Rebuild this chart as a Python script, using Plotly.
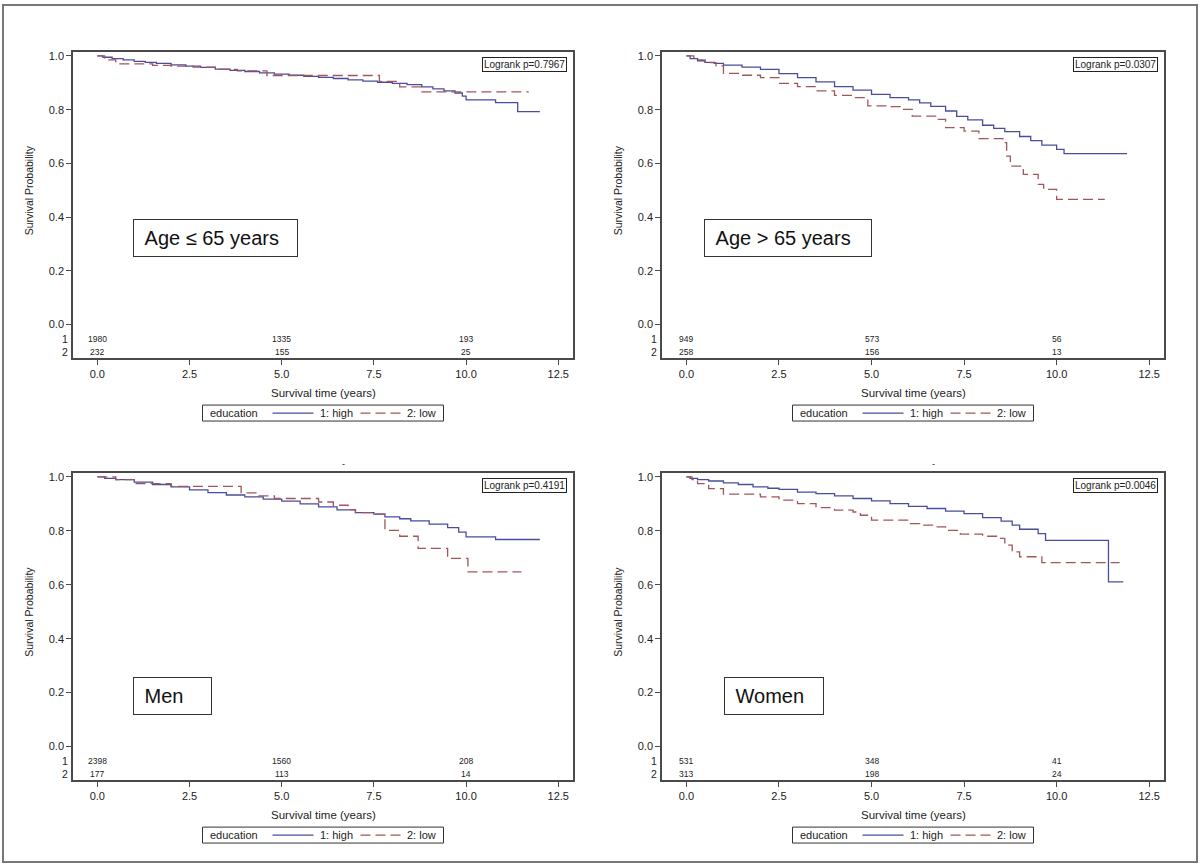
import plotly.graph_objects as go

# ---------------- data ----------------
panel_labels = ["Age \u2264 65 years", "Age > 65 years", "Men", "Women"]
logrank_texts = ["Logrank p=0.7967", "Logrank p=0.0307", "Logrank p=0.4191", "Logrank p=0.0046"]
legend_title = "education"
group_names = ["1: high", "2: low"]
risk_times = [0, 5, 10]

# Age <= 65
a1_high_t = [0, 0.15, 0.4, 0.7, 1.0, 1.3, 1.6, 2.0, 2.4, 2.8, 3.2, 3.6, 4.0, 4.4, 4.8, 5.2, 5.6, 6.0, 6.4, 6.8, 7.2, 7.6, 8.0, 8.4, 8.8, 9.1, 9.4, 9.7, 9.9, 10.0, 10.8, 11.4, 12.0]
a1_high_s = [1.0, 0.995, 0.99, 0.985, 0.98, 0.976, 0.972, 0.967, 0.962, 0.957, 0.951, 0.946, 0.942, 0.937, 0.932, 0.928, 0.924, 0.92, 0.916, 0.911, 0.906, 0.902, 0.898, 0.893, 0.885, 0.877, 0.870, 0.862, 0.850, 0.836, 0.826, 0.793, 0.793]
a1_low_t = [0, 0.2, 0.5, 1.5, 2.0, 2.6, 3.2, 3.8, 4.6, 7.65, 8.2, 8.8, 11.7]
a1_low_s = [1.0, 0.985, 0.97, 0.965, 0.962, 0.958, 0.950, 0.944, 0.927, 0.905, 0.885, 0.866, 0.866]
a1_risk_high = ["1980", "1335", "193"]
a1_risk_low = ["232", "155", "25"]

# Age > 65
a2_high_t = [0, 0.1, 0.3, 0.5, 0.75, 1.0, 1.5, 2.0, 2.5, 3.0, 3.5, 4.0, 4.5, 5.0, 5.5, 6.0, 6.3, 6.6, 7.0, 7.3, 7.6, 8.0, 8.3, 8.6, 9.0, 9.3, 9.6, 10.0, 10.2, 11.9]
a2_high_s = [1.0, 0.99, 0.982, 0.976, 0.972, 0.966, 0.958, 0.95, 0.934, 0.919, 0.903, 0.886, 0.873, 0.857, 0.845, 0.836, 0.825, 0.812, 0.795, 0.775, 0.762, 0.742, 0.73, 0.718, 0.70, 0.685, 0.668, 0.652, 0.636, 0.636]
a2_low_t = [0, 0.2, 0.5, 0.8, 1.0, 1.5, 2.0, 2.5, 3.0, 3.5, 4.0, 4.5, 4.8, 4.9, 5.5, 5.8, 6.1, 6.8, 7.0, 7.5, 7.9, 8.55, 8.65, 8.75, 9.1, 9.5, 9.65, 10.0, 11.3]
a2_low_s = [1.0, 0.985, 0.975, 0.963, 0.935, 0.928, 0.919, 0.898, 0.886, 0.87, 0.853, 0.845, 0.838, 0.814, 0.811, 0.801, 0.776, 0.764, 0.733, 0.72, 0.692, 0.677, 0.627, 0.59, 0.559, 0.522, 0.503, 0.466, 0.466]
a2_risk_high = ["949", "573", "56"]
a2_risk_low = ["258", "156", "13"]

# Men
m_high_t = [0, 0.2, 0.5, 1.0, 1.5, 2.0, 2.5, 3.0, 3.5, 4.0, 4.5, 5.0, 5.5, 6.0, 6.5, 7.0, 7.5, 7.8, 8.2, 8.5, 9.0, 9.5, 9.8, 10.0, 10.8, 12.0]
m_high_s = [1.0, 0.995, 0.99, 0.981, 0.972, 0.963, 0.952, 0.942, 0.933, 0.926, 0.918, 0.91, 0.9, 0.889, 0.878, 0.868, 0.862, 0.852, 0.845, 0.837, 0.825, 0.812, 0.795, 0.778, 0.768, 0.768]
m_low_t = [0, 0.5, 1.0, 2.0, 3.9, 4.3, 4.8, 6.0, 6.4, 6.8, 7.0, 7.5, 7.8, 8.2, 8.7, 9.5, 10.05, 11.5]
m_low_s = [1.0, 0.99, 0.975, 0.965, 0.941, 0.93, 0.92, 0.907, 0.895, 0.879, 0.868, 0.862, 0.802, 0.78, 0.735, 0.698, 0.648, 0.648]
m_risk_high = ["2398", "1560", "208"]
m_risk_low = ["177", "113", "14"]

# Women
w_high_t = [0, 0.1, 0.3, 0.6, 1.0, 1.4, 1.8, 2.2, 2.5, 3.0, 3.5, 4.0, 4.5, 5.0, 5.5, 6.0, 6.5, 7.0, 7.5, 8.0, 8.5, 8.8, 9.0, 9.5, 9.7, 11.4, 11.8]
w_high_s = [1.0, 0.995, 0.99, 0.985, 0.978, 0.972, 0.963, 0.958, 0.954, 0.944, 0.938, 0.93, 0.92, 0.911, 0.901, 0.891, 0.883, 0.873, 0.864, 0.849, 0.836, 0.821, 0.806, 0.79, 0.765, 0.611, 0.611]
w_low_t = [0, 0.15, 0.3, 0.6, 1.0, 2.0, 2.5, 3.0, 3.5, 4.0, 4.5, 4.7, 5.0, 6.0, 6.3, 6.7, 7.0, 7.4, 8.0, 8.4, 8.6, 8.8, 9.0, 9.6, 11.7]
w_low_s = [1.0, 0.99, 0.975, 0.957, 0.936, 0.926, 0.914, 0.901, 0.886, 0.877, 0.87, 0.858, 0.84, 0.827, 0.821, 0.815, 0.802, 0.788, 0.78, 0.772, 0.747, 0.722, 0.704, 0.682, 0.682]
w_risk_high = ["531", "348", "41"]
w_risk_low = ["313", "198", "24"]

x_ticks = [0, 2.5, 5, 7.5, 10, 12.5]
y_ticks = [0, 0.2, 0.4, 0.6, 0.8, 1.0]

# ---------------- styling ----------------
W, H = 1200, 868
FONT = "Liberation Sans, Arial, sans-serif"
BLUE = "#4B4D9C"
RED = "#A2555A"
AX = "#4a4a4a"
TXT = "#222"
DASH = "10px,5px"


def px(v):
    return v / W


def py(v):
    return 1 - v / H


panels = [
    dict(high=(a1_high_t, a1_high_s), low=(a1_low_t, a1_low_s), rh=a1_risk_high, rl=a1_risk_low,
         xpx=(73, 573), ypx=(50, 357), box=(133, 218, 165, 38)),
    dict(high=(a2_high_t, a2_high_s), low=(a2_low_t, a2_low_s), rh=a2_risk_high, rl=a2_risk_low,
         xpx=(662, 1164), ypx=(50, 357), box=(704, 218, 168, 38)),
    dict(high=(m_high_t, m_high_s), low=(m_low_t, m_low_s), rh=m_risk_high, rl=m_risk_low,
         xpx=(73, 573), ypx=(472, 780), box=(133, 677, 79, 38)),
    dict(high=(w_high_t, w_high_s), low=(w_low_t, w_low_s), rh=w_risk_high, rl=w_risk_low,
         xpx=(662, 1164), ypx=(472, 780), box=(724, 677, 100, 38)),
]

X_RANGE = [-0.66, 12.9]
Y_RANGE = [-0.125, 1.015]
ROW1_Y, ROW2_Y = -0.054, -0.103

fig = go.Figure()
annotations = []
shapes = []
layout_axes = {}

for i, p in enumerate(panels):
    k = "" if i == 0 else str(i + 1)
    xa, ya = "x" + k, "y" + k
    for (t, s), name, color, dash in [(p["high"], group_names[0], BLUE, "solid"),
                                      (p["low"], group_names[1], RED, DASH)]:
        fig.add_trace(go.Scatter(x=t, y=s, mode="lines", name=name, xaxis=xa, yaxis=ya,
                                 showlegend=False,
                                 line=dict(color=color, width=1.3, dash=dash, shape="hv"),
                                 hoverinfo="skip"))
    x0, x1 = p["xpx"]
    y0, y1 = p["ypx"]
    common = dict(ticks="outside", ticklen=5, tickcolor=AX, showline=True, mirror=True,
                  linecolor=AX, linewidth=1.5, showgrid=False, zeroline=False,
                  tickformat=".1f", tickfont=dict(size=11, color=TXT, family=FONT))
    layout_axes["xaxis" + k] = dict(domain=[px(x0), px(x1)], range=X_RANGE, tickvals=x_ticks,
                                    anchor=ya, **common)
    layout_axes["yaxis" + k] = dict(domain=[py(y1), py(y0)], range=Y_RANGE, tickvals=y_ticks,
                                    anchor=xa, **common)

    # ---- legend box (drawn like the SAS legend) ----
    L = (x0 + x1) / 2 - 120.5
    T = y1 + 47
    cy = T + 8
    shapes.append(dict(type="rect", xref="paper", yref="paper", x0=px(L), x1=px(L + 241),
                       y0=py(T + 16), y1=py(T), line=dict(color="#333", width=1)))
    shapes.append(dict(type="line", xref="paper", yref="paper", x0=px(L + 70), x1=px(L + 111),
                       y0=py(cy), y1=py(cy), line=dict(color=BLUE, width=1.3)))
    shapes.append(dict(type="line", xref="paper", yref="paper", x0=px(L + 158), x1=px(L + 198),
                       y0=py(cy), y1=py(cy), line=dict(color=RED, width=1.3, dash=DASH)))
    for txt, off in [(legend_title, 5), (group_names[0], 115), (group_names[1], 202)]:
        annotations.append(dict(text=txt, xref="paper", yref="paper", x=px(L + off), y=py(cy),
                                xanchor="left", yanchor="middle", showarrow=False,
                                font=dict(size=11, family=FONT, color=TXT)))

    # axis titles
    annotations.append(dict(text="Survival time (years)", xref=xa + " domain", x=0.5, yref="paper",
                            y=py(y1 + 35), yanchor="middle", showarrow=False,
                            font=dict(size=11.5, family=FONT, color=TXT)))
    annotations.append(dict(text="Survival Probability", xref="paper", x=px(x0 - 44), yref=ya,
                            y=0.5, textangle=-90, showarrow=False, xanchor="center",
                            font=dict(size=10.5, family=FONT, color=TXT)))
    # logrank box
    annotations.append(dict(text=logrank_texts[i], xref=xa + " domain", x=1 - 6 / (x1 - x0),
                            yref=ya + " domain", y=1 - 5 / (y1 - y0), xanchor="right", yanchor="top",
                            showarrow=False, bordercolor=TXT, borderwidth=1, borderpad=1,
                            bgcolor="white", font=dict(size=10, family=FONT, color=TXT)))
    # panel label box
    bx, by, bw, bh = p["box"]
    annotations.append(dict(text="\u00a0" + panel_labels[i], xref="paper", yref="paper",
                            x=px(bx), y=py(by), xanchor="left", yanchor="top", showarrow=False,
                            bordercolor="#333", borderwidth=1, borderpad=5, bgcolor="white",
                            width=bw - 12, height=bh - 12, align="left", valign="middle",
                            font=dict(size=20, family=FONT, color="#111")))
    # number at risk
    for rv, yy in [(p["rh"], ROW1_Y), (p["rl"], ROW2_Y)]:
        for tt, txt in zip(risk_times, rv):
            annotations.append(dict(text=txt, xref=xa, yref=ya, x=tt, y=yy, showarrow=False,
                                    font=dict(size=8.5, family=FONT, color=TXT)))
    for lab, yy in [("1", ROW1_Y), ("2", ROW2_Y)]:
        annotations.append(dict(text=lab, xref="paper", yref=ya, x=px(x0 - 3), y=yy,
                                xanchor="right", showarrow=False,
                                font=dict(size=10.5, family=FONT, color=TXT)))
    # small stray mark above bottom panels
    if i >= 2:
        annotations.append(dict(text="-", xref=xa + " domain", x=0.54, yref="paper",
                                y=py(y0 - 9), showarrow=False,
                                font=dict(size=9, family=FONT, color=TXT)))

# outer frame
shapes.append(dict(type="rect", xref="paper", yref="paper", x0=px(3), x1=px(1197),
                   y0=py(862), y1=py(3), line=dict(color="#777", width=2)))

fig.update_layout(
    width=W, height=H, margin=dict(l=0, r=0, t=0, b=0),
    paper_bgcolor="white", plot_bgcolor="white",
    font=dict(family=FONT, color=TXT),
    showlegend=False,
    annotations=annotations,
    shapes=shapes,
    **layout_axes,
)

fig.write_html("out.html", config={"displayModeBar": False},
               post_script="document.body.style.margin='0';document.body.style.overflow='hidden';")
